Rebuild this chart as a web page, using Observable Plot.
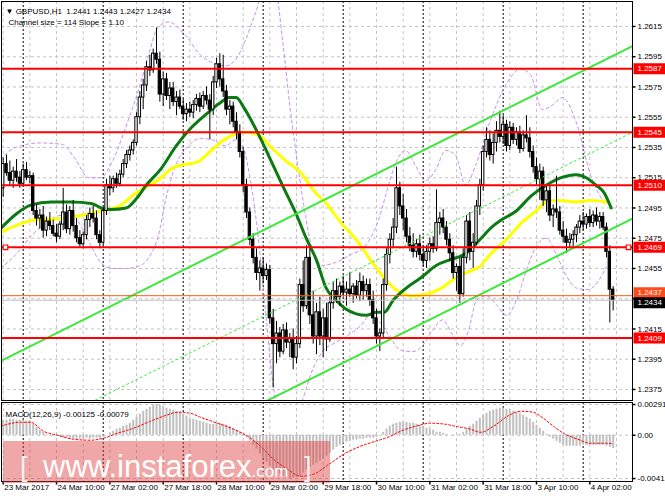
<!DOCTYPE html>
<html>
<head>
<meta charset="utf-8">
<script src="https://cdn.jsdelivr.net/npm/d3@7"></script>
<script src="https://cdn.jsdelivr.net/npm/@observablehq/plot@0.6"></script>
<style>
  html, body { margin: 0; padding: 0; background: #fff; }
  #chart { position: relative; width: 665px; height: 499px; overflow: hidden; background: #fff; }
  #main, #macd { position: absolute; left: 0; }
  #main { top: 0; }
  #macd { top: 401px; }
  #wm { position: absolute; left: 0; top: 0; pointer-events: none; }
  svg { display: block; }
</style>
</head>
<body>
<div id="chart">
  <div id="main"></div>
  <div id="macd"></div>
  <svg id="wm" width="665" height="499" viewBox="0 0 665 499">
    <rect x="3" y="441" width="327" height="42" fill="#dc3c3c" fill-opacity="0.45"></rect>
    <g font-family="'Liberation Sans', Arial, sans-serif" fill="#ffffff">
      <text x="20" y="476" font-size="27" fill="#f2f2f2">[</text>
      <text x="43" y="477" font-size="31">www.instaforex<tspan font-size="17">.com</tspan></text>
      <text x="304" y="476" font-size="27" fill="#f2f2f2">]</text>
    </g>
  </svg>
</div>
<script>
// ---------------- DATA ----------------
const headerLine1 = "\u25BC GBPUSD,H1\u00A0\u00A01.2441 1.2443 1.2427 1.2434";
const headerLine2 = "Channel size = 114 Slope = 1.10";
const macdLabel = "MACD(12,26,9) -0.00125 -0.00079";

const priceTicks = [1.2375, 1.2395, 1.2415, 1.2435, 1.2455, 1.2475, 1.2495, 1.2515, 1.2535, 1.2555, 1.2575, 1.2595, 1.2615];
const levelLines = [1.2587, 1.2545, 1.2510, 1.2469, 1.2409];
const askLine = 1.2437;
const bidLine = 1.2434;
const markedLevel = 1.2469;

const macdTicks = [0.00291, 0, -0.0041];
const macdTickLabels = ["0.00291", "0.00", "-0.0041"];

const timeLabelBars = [0, 16, 32, 48, 64, 80, 96, 112, 128, 144, 160, 176];
const timeLabelTexts = ["23 Mar 2017", "24 Mar 10:00", "27 Mar 02:00", "27 Mar 18:00", "28 Mar 10:00", "29 Mar 02:00",
  "29 Mar 18:00", "30 Mar 10:00", "31 Mar 02:00", "31 Mar 18:00", "3 Apr 10:00", "4 Apr 02:00"];
const daySeparatorBars = [6, 30, 54, 78, 102, 126, 150, 174];

// hourly candles [open, high, low, close], bar 0 = 23 Mar 18:00
const candles = [
[1.2508,1.2528,1.2502,1.2524],[1.2524,1.2530,1.2516,1.2518],[1.2518,1.2526,1.2510,1.2513],[1.2513,1.2522,1.2508,1.2519],
[1.2519,1.2527,1.2512,1.2515],[1.2515,1.2519,1.2508,1.2511],[1.2511,1.2524,1.2509,1.2520],[1.2520,1.2525,1.2513,1.2515],
[1.2515,1.2519,1.2511,1.2516],[1.2516,1.2518,1.2490,1.2493],[1.2493,1.2497,1.2483,1.2488],[1.2488,1.2494,1.2481,1.2490],
[1.2490,1.2496,1.2475,1.2480],[1.2480,1.2489,1.2476,1.2486],[1.2486,1.2492,1.2480,1.2483],[1.2483,1.2487,1.2476,1.2478],
[1.2478,1.2484,1.2472,1.2476],[1.2476,1.2486,1.2474,1.2484],[1.2484,1.2508,1.2480,1.2492],[1.2492,1.2497,1.2478,1.2481],
[1.2481,1.2496,1.2477,1.2493],[1.2493,1.2500,1.2479,1.2483],[1.2483,1.2488,1.2472,1.2475],[1.2475,1.2480,1.2469,1.2471],
[1.2471,1.2479,1.2468,1.2477],[1.2477,1.2490,1.2474,1.2487],[1.2487,1.2495,1.2482,1.2491],[1.2491,1.2496,1.2485,1.2488],
[1.2488,1.2493,1.2474,1.2477],[1.2477,1.2480,1.2468,1.2472],[1.2472,1.2495,1.2470,1.2493],[1.2493,1.2514,1.2490,1.2510],
[1.2510,1.2516,1.2503,1.2508],[1.2508,1.2516,1.2505,1.2514],[1.2514,1.2518,1.2508,1.2511],[1.2511,1.2520,1.2509,1.2517],
[1.2517,1.2527,1.2515,1.2524],[1.2524,1.2533,1.2521,1.2530],[1.2530,1.2536,1.2526,1.2533],[1.2533,1.2540,1.2530,1.2538],
[1.2538,1.2558,1.2536,1.2555],[1.2555,1.2572,1.2550,1.2568],[1.2568,1.2580,1.2560,1.2576],[1.2576,1.2592,1.2572,1.2588],
[1.2588,1.2596,1.2582,1.2586],[1.2586,1.2600,1.2584,1.2597],[1.2597,1.2614,1.2590,1.2593],[1.2593,1.2598,1.2565,1.2570],
[1.2570,1.2585,1.2562,1.2580],[1.2580,1.2584,1.2566,1.2569],[1.2569,1.2578,1.2560,1.2574],[1.2574,1.2578,1.2562,1.2565],
[1.2565,1.2572,1.2556,1.2568],[1.2568,1.2573,1.2560,1.2562],[1.2562,1.2567,1.2553,1.2557],[1.2557,1.2564,1.2552,1.2560],
[1.2560,1.2565,1.2555,1.2558],[1.2558,1.2566,1.2554,1.2563],[1.2563,1.2570,1.2559,1.2567],[1.2567,1.2571,1.2558,1.2562],
[1.2562,1.2572,1.2560,1.2569],[1.2569,1.2575,1.2563,1.2566],[1.2566,1.2570,1.2540,1.2560],[1.2560,1.2582,1.2556,1.2578],
[1.2578,1.2594,1.2574,1.2590],[1.2590,1.2597,1.2575,1.2580],[1.2580,1.2596,1.2568,1.2572],[1.2572,1.2576,1.2556,1.2560],
[1.2560,1.2566,1.2550,1.2562],[1.2562,1.2565,1.2548,1.2552],[1.2552,1.2558,1.2540,1.2545],[1.2545,1.2550,1.2528,1.2532],
[1.2532,1.2535,1.2505,1.2510],[1.2510,1.2514,1.2488,1.2492],[1.2492,1.2495,1.2470,1.2474],[1.2474,1.2478,1.2458,1.2462],
[1.2462,1.2468,1.2447,1.2452],[1.2452,1.2460,1.2440,1.2455],[1.2455,1.2462,1.2445,1.2450],[1.2450,1.2458,1.2447,1.2454],
[1.2454,1.2457,1.2418,1.2422],[1.2422,1.2428,1.2376,1.2405],[1.2405,1.2420,1.2392,1.2412],[1.2412,1.2416,1.2396,1.2400],
[1.2400,1.2418,1.2398,1.2414],[1.2414,1.2419,1.2402,1.2406],[1.2406,1.2412,1.2396,1.2409],[1.2409,1.2415,1.2388,1.2396],
[1.2396,1.2410,1.2392,1.2405],[1.2405,1.2448,1.2402,1.2444],[1.2444,1.2460,1.2426,1.2430],[1.2430,1.2470,1.2428,1.2462],
[1.2462,1.2468,1.2418,1.2424],[1.2424,1.2440,1.2405,1.2410],[1.2410,1.2432,1.2398,1.2426],[1.2426,1.2436,1.2404,1.2410],
[1.2410,1.2428,1.2396,1.2422],[1.2422,1.2432,1.2400,1.2408],[1.2408,1.2436,1.2406,1.2432],[1.2432,1.2446,1.2428,1.2440],
[1.2440,1.2448,1.2432,1.2436],[1.2436,1.2446,1.2430,1.2443],[1.2443,1.2450,1.2436,1.2439],[1.2439,1.2446,1.2430,1.2441],
[1.2441,1.2452,1.2436,1.2438],[1.2438,1.2445,1.2432,1.2443],[1.2443,1.2447,1.2435,1.2437],[1.2437,1.2452,1.2433,1.2446],
[1.2446,1.2450,1.2434,1.2440],[1.2440,1.2448,1.2436,1.2444],[1.2444,1.2448,1.2430,1.2434],[1.2434,1.2440,1.2418,1.2422],
[1.2422,1.2428,1.2405,1.2410],[1.2410,1.2415,1.2400,1.2412],[1.2412,1.2448,1.2408,1.2444],[1.2444,1.2468,1.2440,1.2464],
[1.2464,1.2478,1.2458,1.2474],[1.2474,1.2488,1.2468,1.2482],[1.2482,1.2522,1.2478,1.2508],[1.2508,1.2512,1.2490,1.2496],
[1.2496,1.2504,1.2480,1.2488],[1.2488,1.2494,1.2472,1.2476],[1.2476,1.2482,1.2466,1.2470],[1.2470,1.2478,1.2462,1.2466],
[1.2466,1.2474,1.2462,1.2471],[1.2471,1.2477,1.2460,1.2464],[1.2464,1.2470,1.2456,1.2460],[1.2460,1.2470,1.2455,1.2466],
[1.2466,1.2475,1.2460,1.2471],[1.2471,1.2476,1.2465,1.2468],[1.2468,1.2507,1.2466,1.2485],[1.2485,1.2492,1.2477,1.2488],
[1.2488,1.2494,1.2478,1.2482],[1.2482,1.2486,1.2470,1.2474],[1.2474,1.2478,1.2460,1.2465],[1.2465,1.2470,1.2448,1.2452],
[1.2452,1.2458,1.2440,1.2456],[1.2456,1.2462,1.2432,1.2438],[1.2438,1.2468,1.2436,1.2462],[1.2462,1.2490,1.2458,1.2486],
[1.2486,1.2492,1.2460,1.2466],[1.2466,1.2478,1.2455,1.2472],[1.2472,1.2500,1.2470,1.2496],[1.2496,1.2514,1.2490,1.2510],
[1.2510,1.2536,1.2506,1.2532],[1.2532,1.2548,1.2528,1.2540],[1.2540,1.2546,1.2526,1.2530],[1.2530,1.2544,1.2524,1.2538],
[1.2538,1.2552,1.2532,1.2546],[1.2546,1.2559,1.2538,1.2542],[1.2542,1.2556,1.2537,1.2550],[1.2550,1.2553,1.2532,1.2536],
[1.2536,1.2552,1.2533,1.2548],[1.2548,1.2551,1.2537,1.2540],[1.2540,1.2548,1.2536,1.2545],[1.2545,1.2549,1.2531,1.2534],
[1.2534,1.2546,1.2532,1.2543],[1.2543,1.2556,1.2538,1.2541],[1.2541,1.2548,1.2528,1.2532],[1.2532,1.2536,1.2518,1.2522],
[1.2522,1.2528,1.2510,1.2514],[1.2514,1.2524,1.2500,1.2519],[1.2519,1.2522,1.2496,1.2500],[1.2500,1.2510,1.2492,1.2506],
[1.2506,1.2510,1.2486,1.2490],[1.2490,1.2497,1.2482,1.2494],[1.2494,1.2516,1.2488,1.2492],[1.2492,1.2496,1.2477,1.2480],
[1.2480,1.2486,1.2472,1.2476],[1.2476,1.2481,1.2465,1.2472],[1.2472,1.2478,1.2468,1.2474],[1.2474,1.2480,1.2469,1.2477],
[1.2477,1.2484,1.2472,1.2482],[1.2482,1.2490,1.2478,1.2486],[1.2486,1.2492,1.2480,1.2484],[1.2484,1.2491,1.2481,1.2489],
[1.2489,1.2494,1.2482,1.2485],[1.2485,1.2493,1.2482,1.2490],[1.2490,1.2495,1.2483,1.2486],[1.2486,1.2492,1.2481,1.2489],
[1.2489,1.2492,1.2480,1.2482],[1.2482,1.2485,1.2462,1.2466],[1.2466,1.2470,1.2419,1.2441],[1.2441,1.2443,1.2427,1.2434]
];

// moving averages [bar, price]
const yellowMA = [[-0.5,1.2479],[9.3,1.2487],[17.4,1.2488],[23.4,1.2490],[29.4,1.2493],[35.4,1.2497],[39.9,1.2505],[43.8,1.2510],
  [47.4,1.2515],[50.4,1.2521],[54.9,1.2524],[57.9,1.2525],[62.4,1.2533],[66.9,1.2541],[69.9,1.2544],[72.9,1.2545],[76.8,1.2543],
  [80.4,1.2535],[84.9,1.2526],[89.4,1.2518],[93.3,1.2506],[96.9,1.2498],[101.4,1.2485],[105.9,1.2474],[110.4,1.2460],[114.9,1.2447],
  [118.5,1.2440],[122.4,1.2437],[126.9,1.2438],[131.4,1.2442],[135.9,1.2449],[139.8,1.2453],[142.8,1.2456],[146.4,1.2465],
  [150.9,1.2474],[155.4,1.2485],[159.9,1.2493],[162.9,1.2499],[166.8,1.2500],[171.9,1.2499],[176.4,1.2500],[181.2,1.2499]];
const greenMA = [[-0.5,1.2482],[3.9,1.2491],[8.4,1.2497],[14.4,1.2499],[20.4,1.2499],[26.4,1.2498],[29.4,1.2495],[32.4,1.2494],
  [36.9,1.2495],[39.9,1.2501],[42.9,1.2510],[47.4,1.2521],[51.9,1.2536],[56.4,1.2548],[60.9,1.2557],[64.8,1.2564],[67.8,1.2568],
  [69.9,1.2568],[72.3,1.2561],[74.4,1.2553],[77.4,1.2540],[80.4,1.2526],[84.0,1.2509],[87.9,1.2491],[90.9,1.2475],[93.9,1.2461],
  [96.9,1.2442],[99.9,1.2434],[102.9,1.2428],[105.9,1.2425],[108.9,1.2424],[111.9,1.2426],[114.3,1.2426],[117.0,1.2434],
  [120.9,1.2442],[125.4,1.2449],[129.9,1.2457],[134.4,1.2461],[138.9,1.2465],[143.4,1.2475],[146.4,1.2482],[149.4,1.2487],
  [153.9,1.2493],[158.4,1.2503],[162.9,1.2510],[167.4,1.2515],[171.9,1.2517],[174.9,1.2515],[177.9,1.2510],[180.3,1.2505],[182.4,1.2495]];

// envelope bands [bar, price]
const bandUpper = [[-0.8,1.2527],[3.7,1.2535],[11.2,1.2538],[17.8,1.2537],[21.7,1.2527],[25.6,1.2515],[29.2,1.2515],[32.8,1.2526],
  [36.7,1.2548],[40.6,1.2573],[43.6,1.2596],[46.3,1.2614],[49.6,1.2618],[54.7,1.2609],[59.2,1.2596],[62.8,1.2591],[66.7,1.2589],
  [69.7,1.2593],[72.7,1.2606],[75.7,1.2624],[78.7,1.2642],[81.7,1.2639],[83.8,1.2606],[86.2,1.2559],[88.6,1.2520],[90.7,1.2490],
  [92.8,1.2467],[95.8,1.2457],[99.7,1.2459],[104.2,1.2464],[108.7,1.2470],[112.6,1.2487],[115.6,1.2510],[118.0,1.2526],
  [120.7,1.2533],[123.7,1.2523],[126.7,1.2513],[129.7,1.2520],[132.7,1.2533],[135.7,1.2530],[138.7,1.2510],[141.7,1.2523],
  [146.2,1.2553],[150.7,1.2576],[155.2,1.2587],[158.2,1.2583],[161.8,1.2560],[164.8,1.2563],[167.8,1.2568],[171.7,1.2553],
  [176.2,1.2517],[180.7,1.2497]];
const bandLower = [[-0.8,1.2455],[3.7,1.2464],[8.2,1.2476],[12.7,1.2485],[17.2,1.2490],[20.8,1.2490],[23.8,1.2481],[26.8,1.2468],
  [29.2,1.2459],[32.8,1.2455],[36.7,1.2455],[41.2,1.2457],[44.2,1.2464],[46.6,1.2477],[48.7,1.2500],[51.7,1.2523],[55.6,1.2536],
  [59.2,1.2541],[62.8,1.2540],[66.7,1.2536],[69.7,1.2540],[71.8,1.2536],[74.2,1.2513],[76.6,1.2474],[78.7,1.2427],[80.8,1.2381],
  [83.2,1.2355],[86.8,1.2351],[89.8,1.2368],[92.8,1.2388],[95.8,1.2400],[99.7,1.2406],[103.6,1.2411],[107.2,1.2417],[110.2,1.2424],
  [113.2,1.2419],[116.2,1.2409],[119.2,1.2401],[122.8,1.2400],[125.8,1.2404],[128.8,1.2414],[131.8,1.2421],[134.8,1.2411],
  [137.2,1.2404],[139.6,1.2414],[142.0,1.2434],[145.0,1.2437],[148.0,1.2431],[151.0,1.2424],[154.0,1.2434],[157.0,1.2454],
  [160.0,1.2470],[163.0,1.2475],[166.0,1.2464],[169.0,1.2450],[172.0,1.2442],[175.6,1.2441],[178.6,1.2447],[181.0,1.2456]];

// regression channel: upper line end points [bar, price], channel size in price
const channelLine = [[-0.51, 1.2394], [188.8, 1.2602]];
const channelSize = 0.0114;

// MACD histogram per bar
const macdHist = [
0.00142,0.00142,0.00152,0.00152,0.00142,0.00142,0.00142,0.00133,0.00133,
0.00104,0.00076,0.00047,
0.00028,0.00009,0.00000,-0.00009,-0.00009,-0.00019,
-0.00028,-0.00028,-0.00038,-0.00038,-0.00038,-0.00038,
-0.00038,-0.00028,-0.00038,-0.00028,-0.00028,-0.00038,
-0.00019,0.00000,0.00019,0.00038,0.00057,
0.00066,0.00085,0.00095,0.00114,0.00142,
0.00170,0.00199,0.00227,0.00246,0.00265,0.00284,0.00291,
0.00284,0.00275,0.00256,0.00246,0.00237,0.00227,0.00218,
0.00199,0.00180,0.00161,0.00152,0.00142,0.00133,
0.00123,0.00114,0.00104,0.00104,0.00114,0.00114,0.00104,0.00095,0.00085,
0.00066,0.00047,0.00028,0.00009,-0.00019,
-0.00057,-0.00095,-0.00133,-0.00180,-0.00218,-0.00256,
-0.00294,-0.00331,-0.00350,-0.00369,-0.00388,-0.00398,-0.00410,-0.00407,-0.00398,-0.00388,
-0.00360,-0.00331,-0.00303,-0.00284,-0.00265,-0.00246,-0.00227,-0.00199,-0.00170,
-0.00142,-0.00114,-0.00095,-0.00076,-0.00066,-0.00057,
-0.00047,-0.00047,-0.00038,-0.00038,-0.00028,-0.00028,-0.00028,
-0.00019,0.00000,0.00028,0.00057,0.00085,0.00104,
0.00114,0.00123,0.00123,0.00123,0.00114,0.00114,0.00104,0.00095,0.00085,
0.00066,0.00057,0.00047,0.00028,0.00028,0.00019,0.00009,0.00000,
-0.00009,0.00000,0.00009,0.00028,0.00057,
0.00085,0.00104,0.00133,0.00161,0.00189,0.00208,
0.00227,0.00237,0.00246,0.00256,0.00256,0.00246,0.00237,
0.00227,0.00218,0.00208,0.00189,0.00170,0.00152,
0.00123,0.00095,0.00066,0.00038,0.00009,-0.00019,
-0.00038,-0.00057,-0.00076,-0.00095,-0.00104,-0.00104,
-0.00104,-0.00104,-0.00104,-0.00095,-0.00095,-0.00095,-0.00095,-0.00095,-0.00095,-0.00095,
-0.00104,-0.00114,-0.00125
];
// MACD signal line [bar, value]
const macdSignal = [[-0.8,0.00085],[5.2,0.00123],[8.2,0.00123],[12.1,0.00038],[16.3,0.0],[21.1,-0.00038],[26.2,-0.00047],
  [30.1,-0.00028],[34.3,0.00019],[39.1,0.00066],[44.2,0.00133],[48.1,0.00180],[52.6,0.00218],[56.2,0.00208],[59.2,0.00170],
  [64.3,0.00114],[69.1,0.00057],[73.3,-0.00009],[77.2,-0.00104],[81.1,-0.00227],[85.3,-0.00322],[89.2,-0.00388],[93.1,-0.00369],
  [97.3,-0.00284],[102.7,-0.00170],[107.2,-0.00104],[111.7,-0.00057],[116.2,-0.00009],[119.2,0.00038],[123.7,0.00085],
  [128.2,0.00114],[132.7,0.00104],[135.7,0.00085],[140.2,0.00057],[143.2,0.00028],[147.1,0.00085],[151.3,0.00180],
  [155.2,0.00227],[159.1,0.00218],[161.2,0.00180],[165.1,0.00085],[168.1,0.00019],[172.4,-0.00038],[176.3,-0.00076],
  [180.8,-0.00076],[183.0,-0.00079]];

// ---------------- DRAWING ----------------
const FONT = "'Liberation Sans', Arial, 'DejaVu Sans', sans-serif";
const xDomain = [-0.51, 188.8];
const gridBars = d3.range(0, 189, 8);

const candleData = candles.map((d, i) => ({i, o: d[0], h: d[1], l: d[2], c: d[3]}));
const upBars = candleData.filter(d => d.c >= d.o);
const downBars = candleData.filter(d => d.c < d.o);
const pts = arr => arr.map(([i, p]) => ({i, p}));
const chanUpper = pts(channelLine);
const chanMid = channelLine.map(([i, p]) => ({i, p: p - channelSize / 2}));
const chanLower = channelLine.map(([i, p]) => ({i, p: p - channelSize}));
// tick labels hidden under the price tags in the reference are not drawn
const visibleTickLabels = priceTicks.filter(t => Math.abs(t - askLine) > 0.0003 && Math.abs(t - bidLine) > 0.0003);

const hTickSym = {draw(ctx) { ctx.moveTo(0, 0); ctx.lineTo(3, 0); }};
const vTickSym = {draw(ctx) { ctx.moveTo(0, 0); ctx.lineTo(0, 3); }};
const boxSym = {draw(ctx) { ctx.rect(1, -5.5, 32, 11); }};
const askBoxSym = {draw(ctx) { ctx.rect(1, -8.5, 32, 11); }};
const bidBoxSym = {draw(ctx) { ctx.rect(1, -3, 32, 11); }};

const mainPlot = Plot.plot({
  width: 665, height: 401,
  marginTop: 1, marginRight: 33, marginBottom: 1, marginLeft: 1,
  x: {domain: xDomain, axis: null},
  y: {domain: [1.23677, 1.26315], axis: null},
  style: {background: "#fff", fontFamily: FONT, fontSize: "8px"},
  marks: [
    Plot.ruleY(priceTicks, {stroke: "#c4c4c4", strokeOpacity: 1, strokeDasharray: "3,3"}),
    Plot.ruleX(gridBars, {stroke: "#c4c4c4", strokeOpacity: 1, strokeDasharray: "3,3"}),
    Plot.ruleX(daySeparatorBars, {stroke: "#000", strokeOpacity: 1, strokeDasharray: "2,2"}),
    Plot.line(pts(bandUpper), {x: "i", y: "p", stroke: "#c88ae8", strokeWidth: 1, strokeDasharray: "3,3", curve: "monotone-x", clip: true}),
    Plot.line(pts(bandLower), {x: "i", y: "p", stroke: "#c88ae8", strokeWidth: 1, strokeDasharray: "3,3", curve: "monotone-x", clip: true}),
    Plot.line(pts(yellowMA), {x: "i", y: "p", stroke: "#ffff00", strokeWidth: 3, curve: "monotone-x", clip: true}),
    Plot.line(pts(greenMA), {x: "i", y: "p", stroke: "#0b7a12", strokeWidth: 3, curve: "monotone-x", clip: true}),
    Plot.ruleX(candleData, {x: "i", y1: "l", y2: "h", stroke: "#000", strokeWidth: 1}),
    Plot.rect(upBars, {x1: d => d.i - 0.36, x2: d => d.i + 0.36, y1: "o", y2: "c", fill: "#fff", stroke: "#000", strokeWidth: 1}),
    Plot.rect(downBars, {x1: d => d.i - 0.36, x2: d => d.i + 0.36, y1: "o", y2: "c", fill: "#000", stroke: "#000", strokeWidth: 1}),
    Plot.line(chanMid, {x: "i", y: "p", stroke: "#3de83d", strokeWidth: 1, strokeDasharray: "2,3", clip: true}),
    Plot.line(chanUpper, {x: "i", y: "p", stroke: "#3de83d", strokeWidth: 2, clip: true}),
    Plot.line(chanLower, {x: "i", y: "p", stroke: "#3de83d", strokeWidth: 2, clip: true}),
    Plot.ruleY([bidLine], {stroke: "#c0c0c0", strokeWidth: 1}),
    Plot.ruleY([askLine], {stroke: "#ff5a1a", strokeWidth: 1}),
    Plot.ruleY(levelLines, {stroke: "#ff0000", strokeWidth: 2}),
    Plot.dot([markedLevel], {y: d => d, frameAnchor: "left", dx: 4, symbol: "square", r: 2.6, stroke: "#ff0000", strokeWidth: 1.2, fill: "#fff"}),
    Plot.dot([markedLevel], {y: d => d, frameAnchor: "right", dx: -4, symbol: "square", r: 2.6, stroke: "#ff0000", strokeWidth: 1.2, fill: "#fff"}),
    Plot.frame({stroke: "#000"}),
    Plot.dot(priceTicks, {y: d => d, frameAnchor: "right", symbol: hTickSym, stroke: "#000", fill: "none"}),
    Plot.text(visibleTickLabels, {y: d => d, frameAnchor: "right", dx: 5, textAnchor: "start", text: d => d.toFixed(4), fontSize: 8, fill: "#000"}),
    Plot.dot(levelLines, {y: d => d, frameAnchor: "right", symbol: boxSym, fill: "#ff0000", stroke: "none"}),
    Plot.text(levelLines, {y: d => d, frameAnchor: "right", dx: 5, textAnchor: "start", text: d => d.toFixed(4), fontSize: 8, fill: "#fff"}),
    Plot.dot([askLine], {y: d => d, frameAnchor: "right", symbol: askBoxSym, fill: "#ff4a1a", stroke: "none"}),
    Plot.text([askLine], {y: d => d, frameAnchor: "right", dx: 5, dy: -3, textAnchor: "start", text: d => d.toFixed(4), fontSize: 8, fill: "#fff"}),
    Plot.dot([bidLine], {y: d => d, frameAnchor: "right", symbol: bidBoxSym, fill: "#000", stroke: "none"}),
    Plot.text([bidLine], {y: d => d, frameAnchor: "right", dx: 5, dy: 2.5, textAnchor: "start", text: d => d.toFixed(4), fontSize: 8, fill: "#fff"}),
    Plot.text([headerLine1], {frameAnchor: "top-left", dx: 4, dy: 7, textAnchor: "start", text: d => d, fontSize: 8, fill: "#000"}),
    Plot.text([headerLine2], {frameAnchor: "top-left", dx: 7, dy: 18, textAnchor: "start", text: d => d, fontSize: 8, fill: "#000"})
  ]
});
document.getElementById("main").appendChild(mainPlot);

const histData = macdHist.map((v, i) => ({i, v}));
const timeTicks = timeLabelBars.map((b, k) => ({b, t: timeLabelTexts[k]}));
const macdTickData = macdTicks.map((v, k) => ({v, t: macdTickLabels[k]}));

const macdPlot = Plot.plot({
  width: 665, height: 98,
  marginTop: 1, marginRight: 33, marginBottom: 18, marginLeft: 1,
  x: {domain: xDomain, axis: null},
  y: {domain: [-0.00438, 0.0031], axis: null},
  style: {background: "#fff", fontFamily: FONT, fontSize: "8px"},
  marks: [
    Plot.ruleY(macdTicks, {stroke: "#c4c4c4", strokeOpacity: 1, strokeDasharray: "3,3"}),
    Plot.ruleX(gridBars, {stroke: "#c4c4c4", strokeOpacity: 1, strokeDasharray: "3,3"}),
    Plot.ruleX(daySeparatorBars, {stroke: "#000", strokeOpacity: 1, strokeDasharray: "2,2"}),
    Plot.ruleX(histData, {x: "i", y1: 0, y2: "v", stroke: "#c0c0c0", strokeWidth: 2}),
    Plot.line(pts(macdSignal), {x: "i", y: "p", stroke: "#ff0000", strokeWidth: 1, strokeDasharray: "2,2", curve: "monotone-x", clip: true}),
    Plot.frame({stroke: "#000"}),
    Plot.dot(macdTickData, {y: "v", frameAnchor: "right", symbol: hTickSym, stroke: "#000", fill: "none"}),
    Plot.text(macdTickData, {y: "v", frameAnchor: "right", dx: 5, textAnchor: "start", text: "t", fontSize: 8, fill: "#000"}),
    Plot.text([macdLabel], {frameAnchor: "top-left", dx: 4, dy: 9, textAnchor: "start", text: d => d, fontSize: 8, fill: "#000"}),
    Plot.dot(timeLabelBars, {x: d => d, frameAnchor: "bottom", symbol: vTickSym, stroke: "#000", fill: "none"}),
    Plot.text(timeTicks, {x: "b", text: "t", frameAnchor: "bottom", dx: 1, dy: 8.5, textAnchor: "start", fontSize: 8, fill: "#000"})
  ]
});
document.getElementById("macd").appendChild(macdPlot);
</script>
</body>
</html>
